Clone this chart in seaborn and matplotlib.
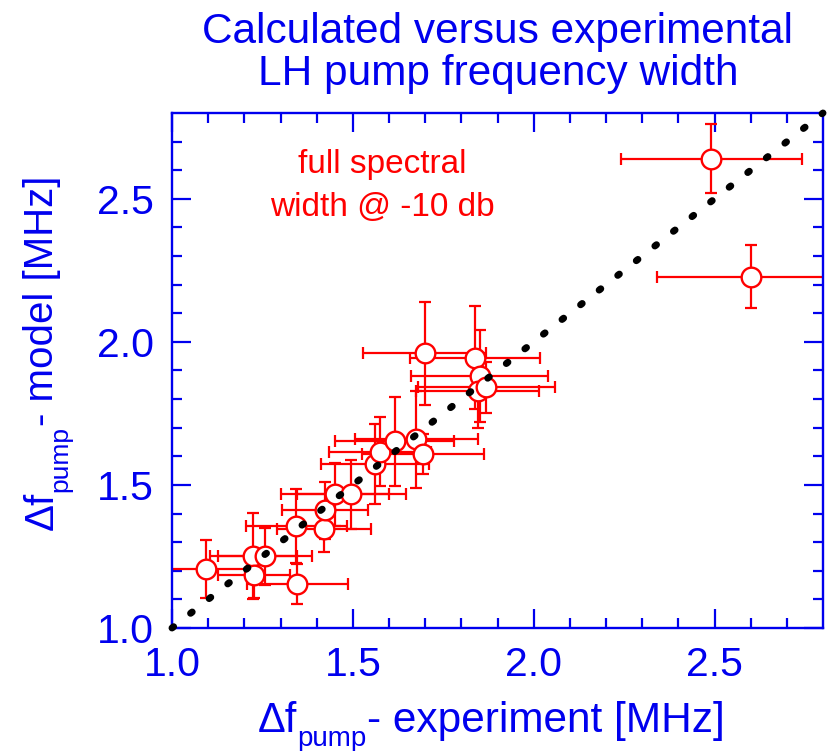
import matplotlib
matplotlib.use("Agg")
import matplotlib.pyplot as plt
import seaborn as sns
import numpy as np
import pandas as pd

# ---- data ----
x_exp = [1.093, 1.225, 1.257, 1.227, 1.346, 1.344, 1.421, 1.423, 1.450, 1.496,
         1.561, 1.575, 1.616, 1.676, 1.694, 1.699, 1.837, 1.851, 1.846, 1.869,
         2.491, 2.601]
y_model = [1.206, 1.253, 1.250, 1.186, 1.153, 1.357, 1.346, 1.411, 1.467, 1.467,
           1.572, 1.616, 1.652, 1.660, 1.607, 1.961, 1.944, 1.880, 1.829, 1.841,
           2.640, 2.227]
x_err = [0.13, 0.12, 0.13, 0.10, 0.14, 0.14, 0.13, 0.12, 0.15, 0.15,
         0.15, 0.14, 0.165, 0.17, 0.17, 0.17, 0.18, 0.19, 0.17, 0.19,
         0.25, 0.26]
y_err = [0.10, 0.15, 0.10, 0.08, 0.07, 0.13, 0.08, 0.10, 0.11, 0.12,
         0.14, 0.12, 0.155, 0.17, 0.07, 0.18, 0.18, 0.16, 0.13, 0.09,
         0.12, 0.11]
diag = [1.0, 2.8]
major_ticks = [1.0, 1.5, 2.0, 2.5]
tick_labels = ["1.0", "1.5", "2.0", "2.5"]

df = pd.DataFrame({"x": x_exp, "y": y_model})

BLUE = "#0000ee"
RED = "#ff0000"

sns.set_style("white")
plt.rcParams["font.family"] = ["Liberation Sans", "DejaVu Sans"]

W, H = 829, 751
fig = plt.figure(figsize=(W / 100, H / 100), dpi=100)
ax = fig.add_axes([172 / W, 1 - 628 / H, 651 / W, 515 / H])

# error bars
ax.errorbar(x_exp, y_model, xerr=x_err, yerr=y_err, fmt="none",
            ecolor=RED, elinewidth=1.6, capsize=4.5, capthick=1.6, zorder=2)
# markers
sns.scatterplot(data=df, x="x", y="y", ax=ax, s=200, marker="o",
                facecolor="white", edgecolor=RED, linewidth=1.7, zorder=3,
                legend=False)
# dotted diagonal
ax.plot(diag, diag, color="black", linewidth=5.0,
        linestyle=(0, (0.3, 3.11)), dash_capstyle="round", zorder=4,
        clip_on=False)

ax.set_xlabel("")
ax.set_ylabel("")
ax.set_xlim(1.0, 2.8)
ax.set_ylim(1.0, 2.8)
ax.set_xticks(major_ticks)
ax.set_xticklabels(tick_labels)
ax.set_yticks(major_ticks)
ax.set_yticklabels(tick_labels)
ax.set_xticks(np.arange(1.1, 2.8, 0.1), minor=True)
ax.set_yticks(np.arange(1.1, 2.8, 0.1), minor=True)
ax.tick_params(which="both", direction="in", top=True, right=True,
               bottom=True, left=True, color=BLUE, width=1.6)
ax.tick_params(which="major", length=14, labelsize=29.5, labelcolor=BLUE, pad=13)
ax.tick_params(which="minor", length=7.5)
for sp in ax.spines.values():
    sp.set_color(BLUE)
    sp.set_linewidth(1.7)

# titles
fig.text(498 / W, 1 - 43 / H, "Calculated versus experimental",
         ha="center", va="baseline", fontsize=30.5, color=BLUE)
fig.text(498 / W, 1 - 85 / H, "LH pump frequency width",
         ha="center", va="baseline", fontsize=30.5, color=BLUE)

# annotation
ax.text(382 / W, 1 - 173 / H, "full spectral", transform=fig.transFigure,
        ha="center", va="baseline", fontsize=24, color=RED)
ax.text(382 / W, 1 - 216 / H, "width @ -10 db", transform=fig.transFigure,
        ha="center", va="baseline", fontsize=24, color=RED)

# axis labels built from pieces (large text + small low subscript)
fig.canvas.draw()
renderer = fig.canvas.get_renderer()


def chain(pieces, x0, y0, vertical=False):
    pos = x0 if not vertical else y0
    for txt, size, drop in pieces:
        if vertical:
            t = fig.text((x0 + drop) / W, 1 - pos / H, txt, fontsize=size,
                         color=BLUE, rotation=90, rotation_mode="anchor",
                         ha="left", va="baseline")
            ext = t.get_window_extent(renderer)
            pos -= ext.height
        else:
            t = fig.text(pos / W, 1 - (y0 + drop) / H, txt, fontsize=size,
                         color=BLUE, ha="left", va="baseline")
            ext = t.get_window_extent(renderer)
            pos += ext.width


chain([("\u0394f", 30, 0), ("pump", 20, 14), ("- experiment [MHz]", 30.5, 0)],
      258, 732)
chain([("\u0394f", 29, 0), ("pump", 19, 14), ("- model [MHz]", 29, 0)],
      53, 530, vertical=True)

fig.savefig("out.png", dpi=100)
